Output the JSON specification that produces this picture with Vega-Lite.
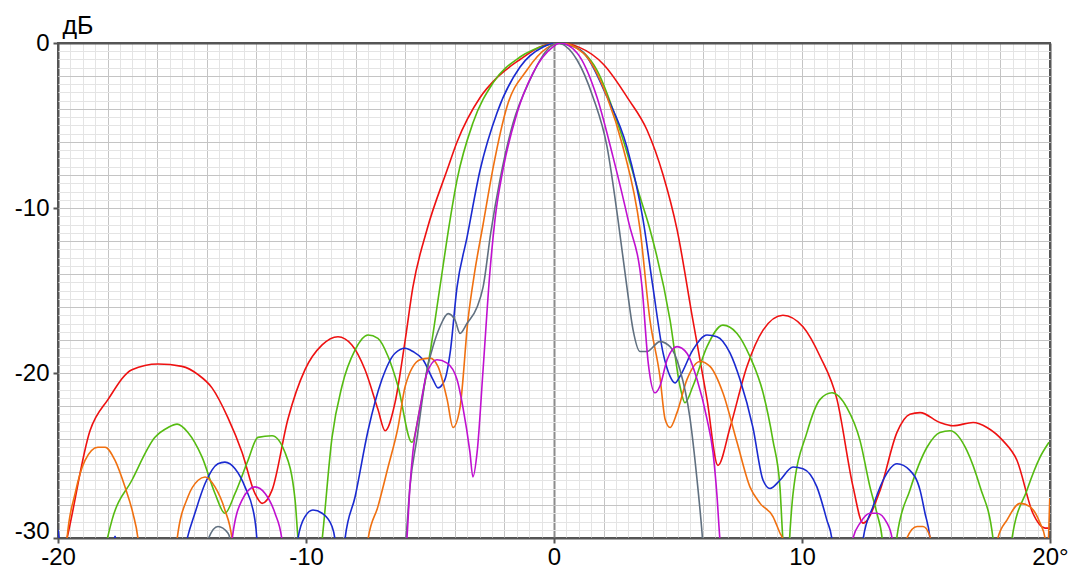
{
 "$schema": "https://vega.github.io/schema/vega-lite/v6.json",
 "width": 992,
 "height": 495,
 "autosize": {"type": "none"},
 "padding": {"left": 58, "top": 43, "right": 24, "bottom": 34},
 "background": "white",
 "config": {"view": {"stroke": "#555555", "strokeWidth": 2}, "font": "Liberation Sans"},
 "data": {"values": [
  {"series":"red","deg":-19.85,"db":-31.3},{"series":"red","deg":-19.65,"db":-30.1},{"series":"red","deg":-18.71,"db":-23.5},{"series":"red","deg":-17.98,"db":-21.6},{"series":"red","deg":-17.02,"db":-19.8},{"series":"red","deg":-15.97,"db":-19.45},{"series":"red","deg":-15.0,"db":-19.6},{"series":"red","deg":-14.35,"db":-20.1},{"series":"red","deg":-13.79,"db":-20.9},{"series":"red","deg":-13.15,"db":-22.7},{"series":"red","deg":-12.58,"db":-24.8},{"series":"red","deg":-12.06,"db":-27.3},{"series":"red","deg":-11.77,"db":-27.9},{"series":"red","deg":-11.37,"db":-27.1},{"series":"red","deg":-10.73,"db":-22.8},{"series":"red","deg":-10.04,"db":-19.8},{"series":"red","deg":-9.35,"db":-18.3},{"series":"red","deg":-8.71,"db":-17.8},{"series":"red","deg":-8.15,"db":-18.3},{"series":"red","deg":-7.62,"db":-19.8},{"series":"red","deg":-7.1,"db":-22.2},{"series":"red","deg":-6.81,"db":-23.5},{"series":"red","deg":-6.41,"db":-21.8},{"series":"red","deg":-6.0,"db":-18.0},{"series":"red","deg":-5.69,"db":-14.8},{"series":"red","deg":-5.12,"db":-11.3},{"series":"red","deg":-4.31,"db":-7.7},{"series":"red","deg":-3.91,"db":-6.0},{"series":"red","deg":-2.98,"db":-3.3},{"series":"red","deg":-2.3,"db":-2.1},{"series":"red","deg":-1.37,"db":-1.0},{"series":"red","deg":-0.5,"db":-0.2},{"series":"red","deg":0.2,"db":0},{"series":"red","deg":1.0,"db":-0.25},{"series":"red","deg":2.0,"db":-1.3},{"series":"red","deg":3.0,"db":-3.4},{"series":"red","deg":3.75,"db":-5.27},{"series":"red","deg":4.4,"db":-8.0},{"series":"red","deg":4.96,"db":-11.3},{"series":"red","deg":5.6,"db":-16.8},{"series":"red","deg":6.17,"db":-21.6},{"series":"red","deg":6.61,"db":-25.6},{"series":"red","deg":7.1,"db":-23.3},{"series":"red","deg":7.78,"db":-19.6},{"series":"red","deg":8.43,"db":-17.4},{"series":"red","deg":9.23,"db":-16.5},{"series":"red","deg":10.04,"db":-17.2},{"series":"red","deg":10.73,"db":-19.0},{"series":"red","deg":11.41,"db":-21.6},{"series":"red","deg":12.06,"db":-26.9},{"series":"red","deg":12.46,"db":-29.1},{"series":"red","deg":13.15,"db":-27.1},{"series":"red","deg":13.83,"db":-23.6},{"series":"red","deg":14.35,"db":-22.5},{"series":"red","deg":14.76,"db":-22.4},{"series":"red","deg":15.56,"db":-23.0},{"series":"red","deg":16.09,"db":-23.2},{"series":"red","deg":16.9,"db":-23.0},{"series":"red","deg":17.46,"db":-23.3},{"series":"red","deg":18.1,"db":-24.1},{"series":"red","deg":18.67,"db":-25.3},{"series":"red","deg":19.31,"db":-28.5},{"series":"red","deg":19.8,"db":-29.4},{"series":"red","deg":20,"db":-29.4},

  {"series":"green","deg":-18.19,"db":-31.3},{"series":"green","deg":-18.02,"db":-30.1},{"series":"green","deg":-17.82,"db":-28.9},{"series":"green","deg":-17.02,"db":-26.5},{"series":"green","deg":-16.09,"db":-23.9},{"series":"green","deg":-15.56,"db":-23.3},{"series":"green","deg":-15.2,"db":-23.1},{"series":"green","deg":-14.76,"db":-23.6},{"series":"green","deg":-14.19,"db":-25.1},{"series":"green","deg":-13.67,"db":-27.3},{"series":"green","deg":-13.27,"db":-28.5},{"series":"green","deg":-12.86,"db":-27.3},{"series":"green","deg":-12.34,"db":-25.3},{"series":"green","deg":-11.94,"db":-23.9},{"series":"green","deg":-11.37,"db":-23.8},{"series":"green","deg":-10.85,"db":-24.8},{"series":"green","deg":-10.44,"db":-27.7},{"series":"green","deg":-10.32,"db":-30.1},{"series":"green","deg":-10.24,"db":-31.3},{"series":"green","deg":-9.44,"db":-31.3},{"series":"green","deg":-9.35,"db":-30.1},{"series":"green","deg":-8.95,"db":-23.9},{"series":"green","deg":-8.55,"db":-20.8},{"series":"green","deg":-8.02,"db":-18.6},{"series":"green","deg":-7.5,"db":-17.7},{"series":"green","deg":-7.1,"db":-17.9},{"series":"green","deg":-6.69,"db":-19.0},{"series":"green","deg":-6.29,"db":-20.8},{"series":"green","deg":-5.73,"db":-24.2},{"series":"green","deg":-5.4,"db":-22.1},{"series":"green","deg":-5.0,"db":-18.8},{"series":"green","deg":-4.6,"db":-14.8},{"series":"green","deg":-4.19,"db":-10.7},{"series":"green","deg":-3.91,"db":-8.3},{"series":"green","deg":-3.27,"db":-4.85},{"series":"green","deg":-2.46,"db":-2.42},{"series":"green","deg":-1.37,"db":-0.85},{"series":"green","deg":-0.28,"db":-0.12},{"series":"green","deg":0.1,"db":0},{"series":"green","deg":0.65,"db":-0.12},{"series":"green","deg":1.73,"db":-1.64},{"series":"green","deg":2.66,"db":-5.27},{"series":"green","deg":3.47,"db":-9.33},{"series":"green","deg":3.87,"db":-11.3},{"series":"green","deg":4.68,"db":-16.8},{"series":"green","deg":5.08,"db":-20.8},{"series":"green","deg":5.28,"db":-21.8},{"series":"green","deg":5.6,"db":-20.8},{"series":"green","deg":6.17,"db":-18.4},{"series":"green","deg":6.81,"db":-17.1},{"series":"green","deg":7.38,"db":-17.6},{"series":"green","deg":7.9,"db":-19.0},{"series":"green","deg":8.43,"db":-21.2},{"series":"green","deg":8.83,"db":-24.1},{"series":"green","deg":9.11,"db":-26.9},{"series":"green","deg":9.23,"db":-30.1},{"series":"green","deg":9.31,"db":-31.3},{"series":"green","deg":9.45,"db":-31.3},{"series":"green","deg":9.5,"db":-30.0},{"series":"green","deg":9.64,"db":-27.3},{"series":"green","deg":10.2,"db":-23.6},{"series":"green","deg":10.73,"db":-21.6},{"series":"green","deg":11.21,"db":-21.2},{"series":"green","deg":11.81,"db":-22.1},{"series":"green","deg":12.34,"db":-24.1},{"series":"green","deg":12.74,"db":-26.9},{"series":"green","deg":13.02,"db":-28.5},{"series":"green","deg":13.23,"db":-30.0},{"series":"green","deg":13.31,"db":-31.3},{"series":"green","deg":13.75,"db":-31.3},{"series":"green","deg":13.83,"db":-29.9},{"series":"green","deg":14.35,"db":-27.1},{"series":"green","deg":15.04,"db":-24.5},{"series":"green","deg":15.56,"db":-23.6},{"series":"green","deg":15.97,"db":-23.5},{"series":"green","deg":16.65,"db":-24.7},{"series":"green","deg":17.18,"db":-26.9},{"series":"green","deg":17.7,"db":-30.0},{"series":"green","deg":17.78,"db":-31.3},{"series":"green","deg":18.39,"db":-31.3},{"series":"green","deg":18.47,"db":-30.0},{"series":"green","deg":19.07,"db":-27.1},{"series":"green","deg":19.6,"db":-25.1},{"series":"green","deg":19.96,"db":-24.2},

  {"series":"blue","deg":-20,"db":-29.5},{"series":"blue","deg":-19.88,"db":-30.4},{"series":"blue","deg":-17.78,"db":-30.4},{"series":"blue","deg":-17.7,"db":-29.9},{"series":"blue","deg":-17.62,"db":-30.4},{"series":"blue","deg":-14.96,"db":-31.3},{"series":"blue","deg":-14.8,"db":-30.1},{"series":"blue","deg":-14.48,"db":-28.5},{"series":"blue","deg":-14.07,"db":-26.7},{"series":"blue","deg":-13.55,"db":-25.5},{"series":"blue","deg":-13.27,"db":-25.4},{"series":"blue","deg":-12.86,"db":-25.8},{"series":"blue","deg":-12.46,"db":-26.9},{"series":"blue","deg":-12.06,"db":-28.9},{"series":"blue","deg":-11.98,"db":-30.1},{"series":"blue","deg":-11.94,"db":-31.3},{"series":"blue","deg":-10.4,"db":-31.3},{"series":"blue","deg":-10.32,"db":-30.0},{"series":"blue","deg":-10.04,"db":-28.7},{"series":"blue","deg":-9.72,"db":-28.3},{"series":"blue","deg":-9.35,"db":-28.5},{"series":"blue","deg":-8.95,"db":-29.3},{"series":"blue","deg":-8.83,"db":-30.1},{"series":"blue","deg":-8.75,"db":-31.3},{"series":"blue","deg":-8.51,"db":-31.3},{"series":"blue","deg":-8.43,"db":-30.1},{"series":"blue","deg":-8.02,"db":-27.5},{"series":"blue","deg":-7.5,"db":-23.5},{"series":"blue","deg":-6.94,"db":-20.4},{"series":"blue","deg":-6.41,"db":-18.8},{"series":"blue","deg":-6.0,"db":-18.5},{"series":"blue","deg":-5.69,"db":-18.7},{"series":"blue","deg":-5.28,"db":-19.2},{"series":"blue","deg":-4.88,"db":-20.4},{"series":"blue","deg":-4.68,"db":-20.9},{"series":"blue","deg":-4.4,"db":-20.4},{"series":"blue","deg":-4.19,"db":-18.8},{"series":"blue","deg":-3.91,"db":-14.8},{"series":"blue","deg":-3.51,"db":-11.8},{"series":"blue","deg":-2.98,"db":-7.7},{"series":"blue","deg":-2.3,"db":-4.24},{"series":"blue","deg":-1.37,"db":-1.45},{"series":"blue","deg":-0.44,"db":-0.24},{"series":"blue","deg":0.12,"db":0},{"series":"blue","deg":1.05,"db":-0.42},{"series":"blue","deg":2.14,"db":-3.27},{"series":"blue","deg":2.94,"db":-6.3},{"series":"blue","deg":3.59,"db":-10.7},{"series":"blue","deg":3.99,"db":-14.8},{"series":"blue","deg":4.4,"db":-18.8},{"series":"blue","deg":4.68,"db":-20.2},{"series":"blue","deg":4.88,"db":-20.6},{"series":"blue","deg":5.08,"db":-20.2},{"series":"blue","deg":5.6,"db":-18.6},{"series":"blue","deg":6.17,"db":-17.7},{"series":"blue","deg":6.57,"db":-17.8},{"series":"blue","deg":7.1,"db":-18.8},{"series":"blue","deg":7.5,"db":-20.4},{"series":"blue","deg":8.02,"db":-23.3},{"series":"blue","deg":8.43,"db":-26.5},{"series":"blue","deg":8.71,"db":-27.0},{"series":"blue","deg":9.11,"db":-26.5},{"series":"blue","deg":9.64,"db":-25.7},{"series":"blue","deg":10.04,"db":-25.8},{"series":"blue","deg":10.6,"db":-26.9},{"series":"blue","deg":11.0,"db":-28.9},{"series":"blue","deg":11.21,"db":-30.1},{"series":"blue","deg":11.29,"db":-31.3},{"series":"blue","deg":12.38,"db":-31.3},{"series":"blue","deg":12.46,"db":-30.1},{"series":"blue","deg":12.86,"db":-28.1},{"series":"blue","deg":13.27,"db":-26.5},{"series":"blue","deg":13.83,"db":-25.5},{"series":"blue","deg":14.35,"db":-25.9},{"series":"blue","deg":14.76,"db":-27.1},{"series":"blue","deg":14.96,"db":-28.5},{"series":"blue","deg":15.16,"db":-30.0},{"series":"blue","deg":15.24,"db":-31.3},{"series":"blue","deg":20,"db":-31.3},

  {"series":"orange","deg":-19.68,"db":-31.3},{"series":"orange","deg":-19.64,"db":-30.1},{"series":"orange","deg":-19.31,"db":-27.3},{"series":"orange","deg":-18.91,"db":-25.3},{"series":"orange","deg":-18.39,"db":-24.5},{"series":"orange","deg":-18.1,"db":-24.5},{"series":"orange","deg":-17.7,"db":-25.3},{"series":"orange","deg":-17.3,"db":-26.9},{"series":"orange","deg":-16.98,"db":-28.5},{"series":"orange","deg":-16.77,"db":-30.1},{"series":"orange","deg":-16.69,"db":-31.3},{"series":"orange","deg":-15.28,"db":-31.3},{"series":"orange","deg":-15.2,"db":-30.1},{"series":"orange","deg":-14.76,"db":-27.5},{"series":"orange","deg":-14.35,"db":-26.5},{"series":"orange","deg":-14.07,"db":-26.3},{"series":"orange","deg":-13.67,"db":-26.9},{"series":"orange","deg":-13.27,"db":-28.3},{"series":"orange","deg":-12.98,"db":-30.1},{"series":"orange","deg":-12.9,"db":-31.3},{"series":"orange","deg":-7.58,"db":-31.3},{"series":"orange","deg":-7.5,"db":-30.1},{"series":"orange","deg":-7.1,"db":-28.1},{"series":"orange","deg":-6.69,"db":-25.7},{"series":"orange","deg":-6.29,"db":-23.3},{"series":"orange","deg":-6.0,"db":-20.8},{"series":"orange","deg":-5.4,"db":-19.2},{"series":"orange","deg":-5.0,"db":-19.1},{"series":"orange","deg":-4.68,"db":-19.6},{"series":"orange","deg":-4.31,"db":-21.6},{"series":"orange","deg":-4.07,"db":-23.3},{"series":"orange","deg":-3.79,"db":-22.1},{"series":"orange","deg":-3.47,"db":-16.8},{"series":"orange","deg":-3.19,"db":-13.8},{"series":"orange","deg":-2.86,"db":-11.0},{"series":"orange","deg":-2.46,"db":-7.6},{"series":"orange","deg":-1.9,"db":-3.88},{"series":"orange","deg":-1.09,"db":-1.64},{"series":"orange","deg":-0.28,"db":-0.3},{"series":"orange","deg":0.24,"db":0},{"series":"orange","deg":1.17,"db":-0.6},{"series":"orange","deg":2.14,"db":-3.27},{"series":"orange","deg":2.78,"db":-6.3},{"series":"orange","deg":3.47,"db":-11.3},{"series":"orange","deg":3.87,"db":-16.8},{"series":"orange","deg":4.27,"db":-20.2},{"series":"orange","deg":4.48,"db":-22.8},{"series":"orange","deg":4.68,"db":-23.3},{"series":"orange","deg":4.96,"db":-22.4},{"series":"orange","deg":5.36,"db":-20.4},{"series":"orange","deg":5.89,"db":-19.3},{"series":"orange","deg":6.29,"db":-19.6},{"series":"orange","deg":6.81,"db":-21.2},{"series":"orange","deg":7.38,"db":-24.2},{"series":"orange","deg":7.9,"db":-26.9},{"series":"orange","deg":8.31,"db":-27.9},{"series":"orange","deg":8.83,"db":-28.7},{"series":"orange","deg":9.11,"db":-29.7},{"series":"orange","deg":9.23,"db":-30.1},{"series":"orange","deg":9.31,"db":-31.3},{"series":"orange","deg":14.15,"db":-31.3},{"series":"orange","deg":14.23,"db":-30.0},{"series":"orange","deg":14.64,"db":-29.3},{"series":"orange","deg":14.88,"db":-29.3},{"series":"orange","deg":15.16,"db":-29.9},{"series":"orange","deg":15.24,"db":-31.3},{"series":"orange","deg":17.82,"db":-31.3},{"series":"orange","deg":17.9,"db":-30.0},{"series":"orange","deg":18.27,"db":-28.9},{"series":"orange","deg":18.79,"db":-27.9},{"series":"orange","deg":19.19,"db":-28.1},{"series":"orange","deg":19.6,"db":-29.1},{"series":"orange","deg":19.8,"db":-30.0},{"series":"orange","deg":19.88,"db":-31.3},{"series":"orange","deg":19.99,"db":-27.6},

  {"series":"gray","deg":-14.03,"db":-31.3},{"series":"gray","deg":-13.95,"db":-30.1},{"series":"gray","deg":-13.55,"db":-29.3},{"series":"gray","deg":-13.15,"db":-29.7},{"series":"gray","deg":-13.06,"db":-30.1},{"series":"gray","deg":-12.98,"db":-31.3},{"series":"gray","deg":-6.09,"db":-31.3},{"series":"gray","deg":-5.97,"db":-30.0},{"series":"gray","deg":-5.81,"db":-26.9},{"series":"gray","deg":-5.52,"db":-23.9},{"series":"gray","deg":-5.12,"db":-19.8},{"series":"gray","deg":-4.88,"db":-18.4},{"series":"gray","deg":-4.6,"db":-17.2},{"series":"gray","deg":-4.27,"db":-16.4},{"series":"gray","deg":-3.99,"db":-16.8},{"series":"gray","deg":-3.79,"db":-17.6},{"series":"gray","deg":-3.51,"db":-17.0},{"series":"gray","deg":-3.1,"db":-16.0},{"series":"gray","deg":-2.86,"db":-14.8},{"series":"gray","deg":-2.55,"db":-11.5},{"series":"gray","deg":-2.18,"db":-8.3},{"series":"gray","deg":-1.65,"db":-4.85},{"series":"gray","deg":-0.97,"db":-2.24},{"series":"gray","deg":-0.28,"db":-0.42},{"series":"gray","deg":0.12,"db":0},{"series":"gray","deg":0.93,"db":-1.03},{"series":"gray","deg":1.57,"db":-3.27},{"series":"gray","deg":2.14,"db":-6.3},{"series":"gray","deg":2.58,"db":-10.7},{"series":"gray","deg":2.94,"db":-14.8},{"series":"gray","deg":3.19,"db":-17.4},{"series":"gray","deg":3.47,"db":-18.7},{"series":"gray","deg":3.75,"db":-18.7},{"series":"gray","deg":4.27,"db":-18.1},{"series":"gray","deg":4.68,"db":-18.4},{"series":"gray","deg":5.08,"db":-19.8},{"series":"gray","deg":5.48,"db":-22.7},{"series":"gray","deg":5.77,"db":-26.5},{"series":"gray","deg":5.97,"db":-29.7},{"series":"gray","deg":6.05,"db":-31.3},{"series":"gray","deg":20,"db":-31.3},

  {"series":"magenta","deg":-13.06,"db":-31.3},{"series":"magenta","deg":-12.98,"db":-30.1},{"series":"magenta","deg":-12.58,"db":-27.7},{"series":"magenta","deg":-12.06,"db":-26.9},{"series":"magenta","deg":-11.65,"db":-27.3},{"series":"magenta","deg":-11.25,"db":-28.5},{"series":"magenta","deg":-10.97,"db":-30.1},{"series":"magenta","deg":-10.89,"db":-31.3},{"series":"magenta","deg":-6.05,"db":-31.3},{"series":"magenta","deg":-5.93,"db":-30.0},{"series":"magenta","deg":-5.81,"db":-26.9},{"series":"magenta","deg":-5.69,"db":-24.8},{"series":"magenta","deg":-5.4,"db":-22.1},{"series":"magenta","deg":-5.12,"db":-20.0},{"series":"magenta","deg":-4.72,"db":-19.2},{"series":"magenta","deg":-4.31,"db":-19.4},{"series":"magenta","deg":-3.91,"db":-20.4},{"series":"magenta","deg":-3.67,"db":-22.1},{"series":"magenta","deg":-3.39,"db":-24.8},{"series":"magenta","deg":-3.27,"db":-26.3},{"series":"magenta","deg":-3.1,"db":-24.8},{"series":"magenta","deg":-2.86,"db":-19.8},{"series":"magenta","deg":-2.58,"db":-13.8},{"series":"magenta","deg":-2.38,"db":-10.7},{"series":"magenta","deg":-2.06,"db":-7.7},{"series":"magenta","deg":-1.49,"db":-4.24},{"series":"magenta","deg":-0.85,"db":-1.82},{"series":"magenta","deg":-0.04,"db":-0.24},{"series":"magenta","deg":0.24,"db":0},{"series":"magenta","deg":0.93,"db":-0.6},{"series":"magenta","deg":1.73,"db":-3.27},{"series":"magenta","deg":2.38,"db":-6.9},{"series":"magenta","deg":3.0,"db":-10.8},{"series":"magenta","deg":3.55,"db":-14.8},{"series":"magenta","deg":3.8,"db":-19.4},{"series":"magenta","deg":4.07,"db":-21.2},{"series":"magenta","deg":4.27,"db":-20.8},{"series":"magenta","deg":4.56,"db":-19.2},{"series":"magenta","deg":4.96,"db":-18.4},{"series":"magenta","deg":5.36,"db":-18.8},{"series":"magenta","deg":5.77,"db":-20.4},{"series":"magenta","deg":6.17,"db":-22.8},{"series":"magenta","deg":6.41,"db":-24.8},{"series":"magenta","deg":6.57,"db":-27.4},{"series":"magenta","deg":6.69,"db":-30.1},{"series":"magenta","deg":6.77,"db":-31.3},{"series":"magenta","deg":11.98,"db":-31.3},{"series":"magenta","deg":12.06,"db":-30.0},{"series":"magenta","deg":12.34,"db":-29.1},{"series":"magenta","deg":12.74,"db":-28.5},{"series":"magenta","deg":13.02,"db":-28.5},{"series":"magenta","deg":13.43,"db":-29.1},{"series":"magenta","deg":13.63,"db":-30.0},{"series":"magenta","deg":13.71,"db":-31.3},{"series":"magenta","deg":20,"db":-31.3}
 ]},
 "layer": [
  {
   "mark": {"type": "point", "opacity": 0},
   "encoding": {
    "x": {"field": "deg", "type": "quantitative", "scale": {"domain": [-20, 20], "nice": false, "zero": false},
      "axis": {"orient": "bottom", "values": [-19.5,-19,-18.5,-18,-17.5,-17,-16.5,-16,-15.5,-15,-14.5,-14,-13.5,-13,-12.5,-12,-11.5,-11,-10.5,-10,-9.5,-9,-8.5,-8,-7.5,-7,-6.5,-6,-5.5,-5,-4.5,-4,-3.5,-3,-2.5,-2,-1.5,-1,-0.5,0.5,1,1.5,2,2.5,3,3.5,4,4.5,5,5.5,6,6.5,7,7.5,8,8.5,9,9.5,10,10.5,11,11.5,12,12.5,13,13.5,14,14.5,15,15.5,16,16.5,17,17.5,18,18.5,19,19.5],
        "grid": true, "gridColor": "#e4e4e4", "gridWidth": 1, "labels": false, "ticks": false, "domain": false, "title": null}},
    "y": {"field": "db", "type": "quantitative", "scale": {"domain": [-30, 0], "nice": false, "zero": false},
      "axis": {"orient": "left", "values": [-29.5,-29,-28.5,-28,-27.5,-27,-26.5,-26,-25.5,-25,-24.5,-24,-23.5,-23,-22.5,-22,-21.5,-21,-20.5,-20,-19.5,-19,-18.5,-18,-17.5,-17,-16.5,-16,-15.5,-15,-14.5,-14,-13.5,-13,-12.5,-12,-11.5,-11,-10.5,-10,-9.5,-9,-8.5,-8,-7.5,-7,-6.5,-6,-5.5,-5,-4.5,-4,-3.5,-3,-2.5,-2,-1.5,-1,-0.5],
        "grid": true, "gridColor": "#e4e4e4", "gridWidth": 1, "labels": false, "ticks": false, "domain": false, "title": null}}
   }
  },
  {
   "mark": {"type": "point", "opacity": 0},
   "encoding": {
    "x": {"field": "deg", "type": "quantitative",
      "axis": {"orient": "bottom", "values": [-18,-16,-14,-12,-10,-8,-6,-4,-2,0,2,4,6,8,10,12,14,16,18,-20,20],
        "grid": true,
        "gridColor": {"condition": [{"test": "datum.value === 0", "value": "#8c8c8c"}, {"test": "abs(datum.value) === 20", "value": "#555555"}], "value": "#c4c4c4"},
        "gridWidth": {"condition": {"test": "datum.value === 0 || abs(datum.value) === 20", "value": 2}, "value": 1},
        "labels": false, "ticks": false, "domain": false, "title": null}},
    "y": {"field": "db", "type": "quantitative",
      "axis": {"orient": "left", "values": [-28,-26,-24,-22,-20,-18,-16,-14,-12,-10,-8,-6,-4,-2,-30,0],
        "grid": true,
        "gridColor": {"condition": {"test": "datum.value === 0 || datum.value === -30", "value": "#555555"}, "value": "#c4c4c4"},
        "gridWidth": {"condition": {"test": "datum.value === 0 || datum.value === -30", "value": 2}, "value": 1},
        "labels": false, "ticks": false, "domain": false, "title": null}}
   }
  },
  {
   "mark": {"type": "line", "clip": true, "strokeWidth": 1.6, "interpolate": "monotone"},
   "encoding": {
    "x": {"field": "deg", "type": "quantitative",
      "axis": {"orient": "bottom", "values": [-20,-10,0,10,20], "grid": false, "domain": false,
        "ticks": true, "tickSize": 5, "tickWidth": 2, "tickColor": "#555555",
        "labelExpr": "datum.value === 20 ? '20°' : '' + datum.value",
        "labelFont": "Liberation Sans", "labelFontSize": 24, "labelColor": "#000000", "labelPadding": 2,
        "labelOverlap": false, "labelFlush": false, "title": null}},
    "y": {"field": "db", "type": "quantitative",
      "axis": {"orient": "left", "values": [0,-10,-20,-30], "grid": false, "domain": false,
        "ticks": true, "tickSize": 5, "tickWidth": 2, "tickColor": "#555555",
        "labelExpr": "'' + datum.value",
        "labelFont": "Liberation Sans", "labelFontSize": 24, "labelColor": "#000000", "labelPadding": 4,
        "labelBaseline": {"condition": {"test": "datum.value === -30", "value": "alphabetic"}, "value": "middle"},
        "labelOverlap": false, "labelFlush": false,
        "title": "дБ", "titleAngle": 0, "titleAlign": "left", "titleBaseline": "alphabetic",
        "titleX": 4, "titleY": -10, "titleFont": "Liberation Sans", "titleFontSize": 25,
        "titleFontWeight": "normal", "titleColor": "#000000"}},
    "color": {"field": "series", "type": "nominal",
      "scale": {"domain": ["red","green","blue","orange","gray","magenta"],
                "range": ["#ee1111","#55bb11","#1a2ad0","#f07010","#607080","#c010d0"]},
      "legend": null}
   }
  }
 ],
 "resolve": {"axis": {"x": "independent", "y": "independent"}}
}
